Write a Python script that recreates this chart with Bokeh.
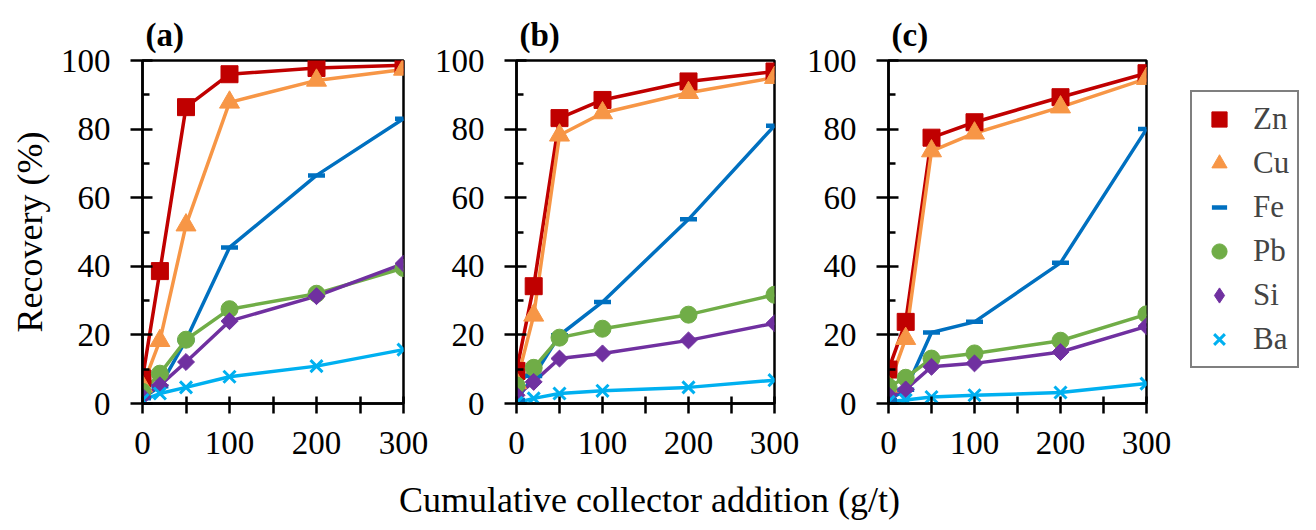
import numpy as np
from bokeh.plotting import figure
from bokeh.models import Range1d, FixedTicker, Legend, LegendItem, Label
from bokeh.layouts import row, column
from bokeh.embed import file_html
from bokeh.resources import INLINE

# collector addition (g/t)
dose = [0, 20, 50, 100, 200, 300]

# (a)
zn_a = [7.3, 38.6, 86.4, 96.0, 97.8, 98.6]
cu_a = [5.0, 18.3, 52.0, 87.8, 94.2, 97.4]
fe_a = [1.5, 5.0, 18.5, 45.5, 66.5, 83.0]
pb_a = [3.4, 8.7, 18.6, 27.5, 32.0, 39.5]
si_a = [2.0, 5.3, 12.1, 24.0, 31.3, 40.8]
ba_a = [1.0, 2.9, 4.7, 7.8, 10.9, 15.7]

# (b)
zn_b = [9.5, 34.2, 83.2, 88.5, 93.9, 96.8]
cu_b = [6.0, 25.7, 78.2, 84.7, 90.6, 95.0]
fe_b = [1.0, 8.0, 19.9, 29.6, 53.7, 81.0]
pb_b = [5.3, 10.4, 19.2, 21.8, 25.9, 31.7]
si_b = [2.4, 6.3, 13.1, 14.6, 18.4, 23.4]
ba_b = [0.2, 1.5, 2.9, 3.7, 4.7, 6.8]

# (c)
zn_c = [9.9, 23.8, 77.5, 82.0, 89.3, 96.3]
cu_c = [5.0, 18.9, 73.6, 78.8, 86.4, 94.7]
fe_c = [1.0, 4.0, 20.7, 23.8, 41.0, 80.0]
pb_c = [4.9, 7.5, 13.1, 14.6, 18.3, 26.0]
si_c = [2.4, 4.1, 10.7, 11.7, 15.0, 22.5]
ba_c = [0.5, 1.0, 1.9, 2.4, 3.2, 5.8]

elements = ["Zn", "Cu", "Fe", "Pb", "Si", "Ba"]
colors = ["#C00000", "#F79646", "#0070C0", "#70AD47", "#7030A0", "#00B0F0"]

FONT = "'Liberation Serif', 'DejaVu Serif', serif"


def add_marks(p, name, col, xs, ys, legend_glyph=False):
    if name == "Zn":
        return p.scatter(xs, ys, marker="square", size=17, fill_color=col, line_color=col)
    if name == "Cu":
        return p.scatter(xs, ys, marker="triangle", size=20, fill_color=col, line_color=col)
    if name == "Fe":
        return p.scatter(xs, ys, marker="dash", size=17, line_color=col, line_width=4.5)
    if name == "Pb":
        return p.scatter(xs, ys, marker="circle", size=17, fill_color=col, line_color=col)
    if name == "Si":
        if legend_glyph:
            return p.scatter(xs, ys, marker="diamond", size=16, fill_color=col, line_color=col)
        return p.scatter(xs, ys, marker="square", angle=np.pi / 4, size=12,
                         fill_color=col, line_color=col)
    return p.scatter(xs, ys, marker="x", size=17, line_color=col, line_width=3)


def make_panel(tag, series, left, right, ylabel=None):
    p = figure(width=left + 261 + right, height=476,
               x_range=Range1d(0, 300), y_range=Range1d(0, 100),
               min_border_left=left, min_border_right=right,
               min_border_top=60, min_border_bottom=73,
               output_backend="svg", toolbar_location=None)
    p.grid.visible = False
    p.outline_line_color = "black"
    p.outline_line_width = 2.5
    p.title.text = tag
    p.title.text_font = FONT
    p.title.text_font_size = "33px"
    p.title.text_font_style = "bold"
    p.title.text_color = "black"
    p.title.offset = 3
    p.title.standoff = 16

    p.xaxis.ticker = FixedTicker(ticks=[0, 100, 200, 300], minor_ticks=[50, 150, 250])
    p.yaxis.ticker = FixedTicker(ticks=[0, 20, 40, 60, 80, 100],
                                 minor_ticks=[10, 30, 50, 70, 90])
    for ax in (p.xaxis, p.yaxis):
        ax.axis_line_width = 2.5
        ax.major_tick_line_width = 2.5
        ax.minor_tick_line_width = 2.5
        ax.axis_line_color = "black"
        ax.major_tick_line_color = "black"
        ax.minor_tick_line_color = "black"
        ax.major_label_text_font = FONT
        ax.major_label_text_font_size = "33px"
        ax.major_label_text_color = "black"
        ax.axis_label_text_font = FONT
        ax.axis_label_text_font_size = "36px"
        ax.axis_label_text_font_style = "normal"
        ax.axis_label_text_color = "black"
    p.xaxis.major_tick_in = 7
    p.xaxis.major_tick_out = 10
    p.xaxis.minor_tick_in = 7
    p.xaxis.minor_tick_out = 10
    p.xaxis.major_label_standoff = 18
    p.yaxis.major_tick_in = 10
    p.yaxis.major_tick_out = 12
    p.yaxis.minor_tick_in = 7
    p.yaxis.minor_tick_out = 0
    p.yaxis.major_label_standoff = 20
    if ylabel:
        p.yaxis.axis_label = ylabel
        p.yaxis.axis_label_standoff = 8

    for col, vals in zip(colors, series):
        p.line(dose, vals, line_color=col, line_width=3.5)
    for name, col, vals in zip(elements, colors, series):
        add_marks(p, name, col, dose, vals)
    return p


series_c = [zn_c, cu_c, fe_c, pb_c, si_c, ba_c]
pa = make_panel("(a)", [zn_a, cu_a, fe_a, pb_a, si_a, ba_a], 142, 28, ylabel="Recovery (%)")
pb = make_panel("(b)", [zn_b, cu_b, fe_b, pb_b, si_b, ba_b], 82, 29)
pc = make_panel("(c)", series_c, 82, 30)

# legend holder to the right of panel (c); its glyphs sit outside its view
lg = figure(width=135, height=476, x_range=Range1d(1000, 1001), y_range=Range1d(1000, 1001),
            min_border_left=0, min_border_top=60, min_border_right=0, min_border_bottom=73,
            x_axis_location=None, y_axis_location=None, title=None,
            output_backend="svg", toolbar_location=None)
lg.grid.visible = False
lg.outline_line_color = None
items = []
for name, col, vals in zip(elements, colors, series_c):
    r = add_marks(lg, name, col, dose, vals, legend_glyph=True)
    items.append(LegendItem(label=name, renderers=[r]))
legend = Legend(items=items, location=(14, 35))
legend.glyph_width = 38
legend.glyph_height = 38
legend.label_height = 38
legend.spacing = 6
legend.padding = 8
legend.margin = 0
legend.label_standoff = 15
legend.label_text_font = FONT
legend.label_text_font_size = "31px"
legend.border_line_color = "black"
legend.border_line_width = 2.5
legend.background_fill_alpha = 1
lg.add_layout(legend)

# shared x-axis title in a strip below the panels
strip = figure(width=1312, height=44, x_range=Range1d(0, 1312), y_range=Range1d(0, 44),
               min_border=0, x_axis_location=None, y_axis_location=None, title=None,
               output_backend="svg", toolbar_location=None)
strip.grid.visible = False
strip.outline_line_color = None
strip.add_layout(Label(x=649, y=41, text="Cumulative collector addition (g/t)",
                       text_font=FONT, text_font_size="36px", text_color="black",
                       text_align="center", text_baseline="top"))

p = column(row(pa, pb, pc, lg), strip)
open("out.html", "w").write(file_html(p, INLINE))
